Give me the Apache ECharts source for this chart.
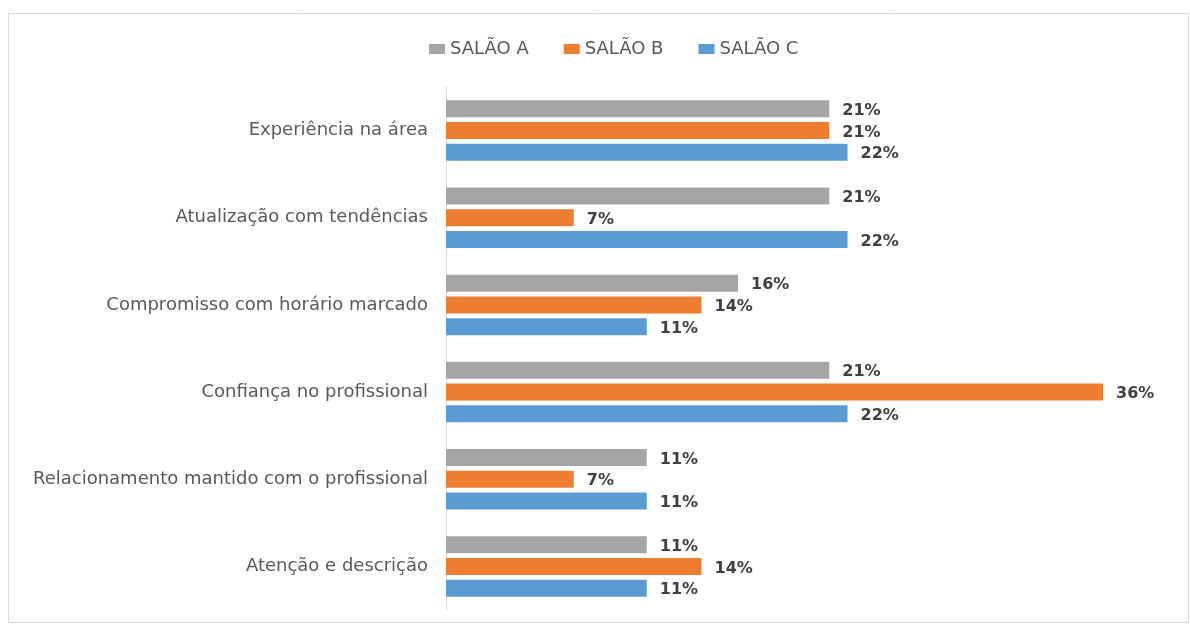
<!DOCTYPE html>
<html>
  <head>
    <meta charset="utf-8">
    <title>Salões</title>
    <script src="https://cdn.jsdelivr.net/npm/echarts@6/dist/echarts.min.js"></script>
    <style>
      html, body { margin: 0; padding: 0; background: #fff; }
      #chart { width: 1190px; height: 624px; }
    </style>
  </head>
  <body>
    <div id="chart"></div>
    <script>
      // categories, top to bottom
      var categories = [
        'Experiência na área',
        'Atualização com tendências',
        'Compromisso com horário marcado',
        'Confiança no profissional',
        'Relacionamento mantido com o profissional',
        'Atenção e descrição'
      ];
      var seriesNames = ['SALÃO A', 'SALÃO B', 'SALÃO C'];
      var salaoA = [21, 21, 16, 21, 11, 11];
      var salaoB = [21, 7, 14, 36, 7, 14];
      var salaoC = [22, 22, 11, 22, 11, 11];
      var colors = ['#a5a5a5', '#ed7d31', '#5b9bd5'];

      var chart = echarts.init(document.getElementById('chart'));

      function makeSeries(name, data, color) {
        return {
          name: name,
          type: 'bar',
          data: data,
          barWidth: 17,
          barGap: '28%',
          itemStyle: { color: color },
          label: {
            show: true,
            position: 'right',
            distance: 13,
            offset: [0, 2],
            formatter: '{c}%',
            color: '#404040',
            fontWeight: 'bold',
            fontSize: 16,
            fontFamily: 'DejaVu Sans'
          }
        };
      }

      chart.setOption({
        animation: false,
        graphic: [{
          type: 'rect',
          shape: { x: 8.5, y: 13.5, width: 1180, height: 609 },
          style: { fill: 'none', stroke: '#d9d9d9', lineWidth: 1 },
          silent: true
        }],
        legend: {
          top: 35,
          left: 424,
          itemWidth: 16,
          itemHeight: 10,
          itemGap: 35,
          icon: 'rect',
          textStyle: { color: '#595959', fontSize: 18, fontFamily: 'DejaVu Sans' },
          data: seriesNames
        },
        grid: { left: 446, right: 14, top: 87, bottom: 14, containLabel: false },
        xAxis: {
          type: 'value',
          min: 0,
          max: 40,
          show: false
        },
        yAxis: {
          type: 'category',
          inverse: true,
          data: categories,
          axisLine: { show: true, lineStyle: { color: '#d9d9d9', width: 1 } },
          axisTick: { show: false },
          axisLabel: {
            margin: 18,
            color: '#595959',
            fontSize: 18,
            fontFamily: 'DejaVu Sans'
          }
        },
        series: [
          makeSeries(seriesNames[0], salaoA, colors[0]),
          makeSeries(seriesNames[1], salaoB, colors[1]),
          makeSeries(seriesNames[2], salaoC, colors[2])
        ]
      });
    </script>
  </body>
</html>
